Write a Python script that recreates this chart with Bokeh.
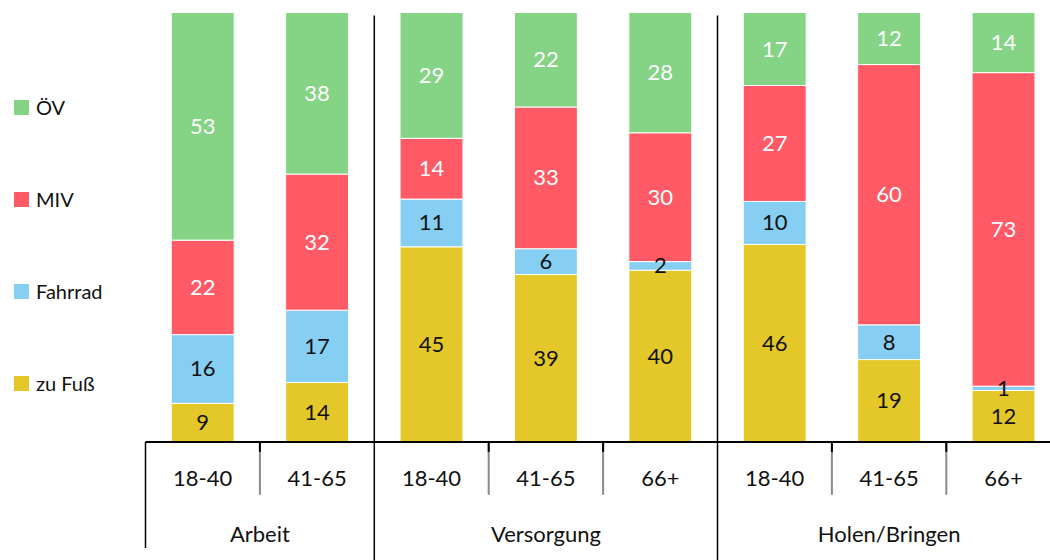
from bokeh.plotting import figure
from bokeh.models import ColumnDataSource, Range1d, Legend, LegendItem
from bokeh.core.properties import value
from bokeh.embed import file_html
from bokeh.resources import INLINE

# ---- data ----
groups = ["Arbeit", "Versorgung", "Holen/Bringen"]
group_sizes = [2, 3, 3]
ages = ["18-40", "41-65", "18-40", "41-65", "66+", "18-40", "41-65", "66+"]
modes = ["zu Fuß", "Fahrrad", "MIV", "ÖV"]
zu_fuss = [9, 14, 45, 39, 40, 46, 19, 12]
fahrrad = [16, 17, 11, 6, 2, 10, 8, 1]
miv = [22, 32, 14, 33, 30, 27, 60, 73]
oev = [53, 38, 29, 22, 28, 17, 12, 14]

colors = ["#E4C82A", "#86CFF2", "#FF5A66", "#85D385"]
label_colors = ["#111111", "#111111", "#ffffff", "#ffffff"]
FONT = "Lato"

series = [zu_fuss, fahrrad, miv, oev]
keys = ["zu_fuss", "fahrrad", "miv", "oev"]
n = len(ages)
xs = [i + 0.5 for i in range(n)]
totals = [sum(s[i] for s in series) for i in range(n)]

data = {"x": xs}
for k, s in zip(keys, series):
    data[k] = [s[i] / totals[i] * 100 for i in range(n)]
src = ColumnDataSource(data)

W, H = 1050, 560
SLOT = 114.4
X0 = 145
AXIS_Y = 441.5
PPU = 4.295
p = figure(width=W, height=H,
           x_range=Range1d(-X0 / SLOT, (W - X0) / SLOT),
           y_range=Range1d(-(H - AXIS_Y) / PPU, 100 + 12 / PPU),
           output_backend="svg", toolbar_location=None, min_border=0)
p.axis.visible = False
p.grid.visible = False
p.outline_line_color = None

rs = p.vbar_stack(keys, x="x", width=0.55, color=colors, source=src,
                  line_color="white", line_width=1)

# value labels
lx, ly, lt, lc = [], [], [], []
for i in range(n):
    cum = 0.0
    for k, s, c in zip(keys, series, label_colors):
        h = data[k][i]
        lx.append(xs[i]); ly.append(cum + h / 2); lt.append(str(s[i])); lc.append(c)
        cum += h
p.text(x=lx, y=ly, text=lt, text_color=lc, text_align="center",
       text_baseline="middle", text_font=value(FONT), text_font_size="22px")

# axis line
p.segment(x0=[0], y0=[0], x1=[n + 1], y1=[0], line_color="black", line_width=2)

# group boundaries
bounds = [0]
for g in group_sizes:
    bounds.append(bounds[-1] + g)
p.segment(x0=[bounds[0]], y0=[0], x1=[bounds[0]], y1=[-24.7], line_color="black", line_width=1.5)
inner = bounds[1:-1]
p.segment(x0=inner, y0=[99.3] * len(inner), x1=inner, y1=[-30] * len(inner),
          line_color="black", line_width=1.5)

# sub separators
subs = []
for gi, g in enumerate(group_sizes):
    for j in range(1, g):
        subs.append(bounds[gi] + j)
p.segment(x0=subs, y0=[0] * len(subs), x1=subs, y1=[-12.3] * len(subs),
          line_color="#8a8a8a", line_width=2)
p.segment(x0=subs, y0=[0] * len(subs), x1=subs, y1=[-2.3] * len(subs),
          line_color="black", line_width=2)

# category labels
p.text(x=xs, y=[-8.6] * n, text=ages, text_align="center", text_baseline="middle",
       text_color="#111111", text_font=value(FONT), text_font_size="22px")
gx = [(bounds[i] + bounds[i + 1]) / 2 for i in range(len(groups))]
p.text(x=gx, y=[-21.4] * len(groups), text=groups, text_align="center",
       text_baseline="middle", text_color="#111111", text_font=value(FONT),
       text_font_size="22px")

# legend
items = [LegendItem(label=m, renderers=[r]) for m, r in zip(modes, rs)][::-1]
legend = Legend(items=items, location=(11, 163), orientation="vertical",
                glyph_width=20, glyph_height=20, label_height=28,
                label_standoff=5, spacing=64, padding=0, margin=0,
                border_line_color=None, background_fill_alpha=0,
                label_text_font=FONT, label_text_font_size="20px",
                label_text_color="#111111", label_text_baseline="middle")
p.add_layout(legend, "center")

open("out.html", "w").write(file_html(p, INLINE))
